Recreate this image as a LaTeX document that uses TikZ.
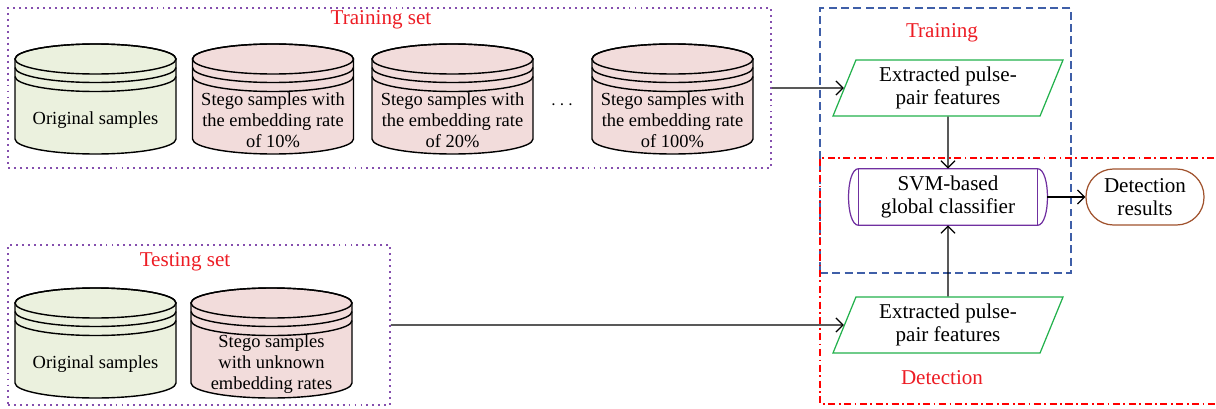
\documentclass[tikz,border=0pt]{standalone}
\usepackage{fontspec}
\setmainfont{Liberation Serif}
\usepackage{tikz}
\usepackage{xcolor}
\usetikzlibrary{shapes.geometric, arrows.meta, positioning}

\definecolor{origfill}{HTML}{EBF1DE}
\definecolor{stegofill}{HTML}{F2DCDB}
\definecolor{setpurple}{HTML}{7030A0}
\definecolor{trainblue}{HTML}{3F5FA8}
\definecolor{labelred}{HTML}{ED1C24}
\definecolor{featgreen}{HTML}{22B14C}
\definecolor{resbrown}{HTML}{A0522D}

\tikzset{
    setbox/.style={draw=setpurple!85, line width=0.9pt, dash pattern=on 1.1pt off 2.3pt},
    setlabel/.style={text=labelred, font=\fontsize{12}{14}\selectfont},
    flowtext/.style={align=center, inner sep=1pt, font=\fontsize{12}{13.2}\selectfont},
    featbox/.style={trapezium, trapezium left angle=63.4, trapezium right angle=116.6,
        trapezium stretches body, draw=featgreen, line width=0.7pt,
        minimum width=4.6cm, minimum height=1.12cm, flowtext},
    svmline/.style={draw=setpurple, line width=0.7pt},
}

% one stack of samples: name, x, y of top centre, fill, text
\newcommand{\sampledisk}[5]{%
    \begin{scope}[shift={(#2,#3)}, line width=0.8pt]
        \filldraw[fill=#4] (-1.61,0) -- (-1.61,-1.6)
            arc[start angle=180, end angle=360, x radius=1.61, y radius=0.3]
            -- (1.61,0) arc[start angle=0, end angle=180, x radius=1.61, y radius=0.3] -- cycle;
        \draw (0,0) ellipse[x radius=1.61, y radius=0.3];
        \draw (-1.61,-0.17) arc[start angle=180, end angle=360, x radius=1.61, y radius=0.3];
        \draw (-1.61,-0.35) arc[start angle=180, end angle=360, x radius=1.61, y radius=0.3];
        \node[align=center] (#1) at (0,-1.22) {#5};
    \end{scope}}

\begin{document}
\begin{tikzpicture}[>={Straight Barb[length=4pt, width=8pt]}, font=\fontsize{10.5}{12}\selectfont]
    \useasboundingbox (0,0) rectangle (24.32,8.16);

    % Frames
    \node[setbox, minimum width=15.26cm, minimum height=3.2cm] (trainset) at (7.79,6.4) {};
    \node[setbox, minimum width=7.64cm, minimum height=3.2cm] (testset) at (3.98,1.66) {};
    \node[draw=trainblue, line width=0.8pt, dash pattern=on 4.5pt off 2.5pt,
        minimum width=5.02cm, minimum height=5.3cm] (trainframe) at (18.91,5.35) {};
    \draw[red, line width=0.8pt, dash pattern=on 4pt off 2pt on 1pt off 2pt]
        (24.6,5.0) -- (16.4,5.0) -- (16.4,0.08) -- (24.6,0.08);

    % Labels
    \node[setlabel] (trainlabel) at (7.62,7.76) {Training set};
    \node[setlabel] (testlabel) at (3.7,2.92) {Testing set};
    \node[setlabel] (trainstep) at (18.84,7.5) {Training};
    \node[setlabel] (detectstep) at (18.84,0.6) {Detection};

    % Sample stacks
    \sampledisk{orig}{1.91}{6.98}{origfill}{Original samples}
    \sampledisk{rate10}{5.46}{6.98}{stegofill}{Stego samples with\\the embedding rate\\of 10\%}
    \sampledisk{rate20}{9.05}{6.98}{stegofill}{Stego samples with\\the embedding rate\\of 20\%}
    \sampledisk{rate100}{13.45}{6.98}{stegofill}{Stego samples with\\the embedding rate\\of 100\%}
    \node (dots) at (11.24,6.06) {$\cdots$};
    \sampledisk{testorig}{1.91}{2.10}{origfill}{Original samples}
    \sampledisk{teststego}{5.43}{2.10}{stegofill}{Stego samples\\with unknown\\embedding rates}

    % Nodes
    \node[featbox] (feattrain) at (18.96,6.4) {Extracted pulse-\\pair features};
    \node[featbox] (feattest) at (18.96,1.66) {Extracted pulse-\\pair features};
    \node[flowtext, minimum width=3.96cm, minimum height=1.12cm] (svm)
        at (18.96,4.22) {SVM-based\\global classifier};
    \draw[svmline] ([xshift=0.2cm]svm.north west) -- ([xshift=-0.2cm]svm.north east)
        .. controls ([xshift=0.07cm]svm.north east) and ([xshift=0.07cm]svm.south east) .. ([xshift=-0.2cm]svm.south east)
        -- ([xshift=0.2cm]svm.south west)
        .. controls ([xshift=-0.07cm]svm.south west) and ([xshift=-0.07cm]svm.north west) .. cycle;
    \draw[svmline] ([xshift=0.2cm]svm.north west) -- ([xshift=0.2cm]svm.south west);
    \draw[svmline] ([xshift=-0.2cm]svm.north east) -- ([xshift=-0.2cm]svm.south east);
    \node[flowtext, draw=resbrown, line width=0.7pt, rounded corners=0.55cm, minimum width=2.36cm,
        minimum height=1.12cm] (results) at (22.9,4.22) {Detection\\results};

    % Paths
    \draw[->, line width=0.7pt] (trainset.east) -- (feattrain.west);
    \draw[->, line width=0.7pt] (testset.east) -- (feattest.west);
    \draw[->, line width=0.7pt] (feattrain.south) -- (svm.north);
    \draw[->, line width=0.7pt] (feattest.north) -- (svm.south);
    \draw[->, line width=0.7pt] (svm.east) -- (results.west);
\end{tikzpicture}
\end{document}
